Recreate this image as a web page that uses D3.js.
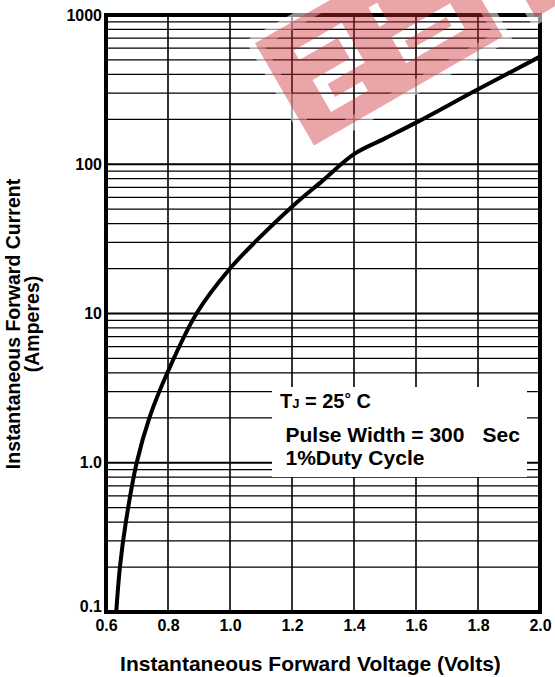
<!DOCTYPE html>
<html lang="en">
<head>
<meta charset="utf-8">
<title>Forward Characteristics</title>
<script src="https://d3js.org/d3.v7.min.js"></script>
<style>
  body { margin: 0; background: #ffffff; }
  text {
    font-family: "Liberation Sans", Arial, sans-serif;
    font-weight: bold;
    fill: #000000;
  }
</style>
</head>
<body>
<div id="chart"></div>
<script>
// forward voltage (V) and matching forward current (A)
var voltage = [0.633, 0.645, 0.664, 0.699, 0.740, 0.800, 0.892, 1.000, 1.100, 1.200, 1.300, 1.400, 1.500, 1.600, 1.800, 2.000];
var current = [0.1, 0.2, 0.4, 1.0, 2.0, 4.1, 10, 20, 33, 52, 78, 117, 149, 190, 318, 526];

// axis ticks
var xTicks = [0.6, 0.8, 1.0, 1.2, 1.4, 1.6, 1.8, 2.0];
var xTickLabels = ["0.6", "0.8", "1.0", "1.2", "1.4", "1.6", "1.8", "2.0"];
var yTicks = [0.1, 1, 10, 100, 1000];
var yTickLabels = ["0.1", "1.0", "10", "100", "1000"];

var margin = {top: 15, right: 15, bottom: 65, left: 106},
    width = 555 - margin.left - margin.right,
    height = 677 - margin.top - margin.bottom;

var svg = d3.select("#chart")
  .append("svg")
    .attr("width", 555)
    .attr("height", 677);

var g = svg.append("g")
    .attr("transform", "translate(" + margin.left + "," + margin.top + ")");

var x = d3.scaleLinear()
  .domain([0.6, 2.0])
  .range([0, width]);

var y = d3.scaleLog()
  .domain([0.1, 1000])
  .range([height, 0]);

// horizontal grid: minor lines 2..9 in every decade, heavier lines on decades
var minor = [];
yTicks.slice(0, -1).forEach(function(d) {
  for (var m = 2; m <= 9; m++) minor.push(d * m);
});
g.selectAll(".minor")
  .data(minor)
  .enter().append("line")
    .attr("x1", 0).attr("x2", width)
    .attr("y1", function(d) { return y(d) })
    .attr("y2", function(d) { return y(d) })
    .attr("stroke", "#000")
    .attr("stroke-width", 1.2);

g.selectAll(".major")
  .data(yTicks.slice(1, -1))
  .enter().append("line")
    .attr("x1", 0).attr("x2", width)
    .attr("y1", function(d) { return y(d) })
    .attr("y2", function(d) { return y(d) })
    .attr("stroke", "#000")
    .attr("stroke-width", 2.2);

// vertical grid
g.selectAll(".vgrid")
  .data(xTicks.slice(1, -1))
  .enter().append("line")
    .attr("x1", function(d) { return x(d) })
    .attr("x2", function(d) { return x(d) })
    .attr("y1", 0).attr("y2", height)
    .attr("stroke", "#000")
    .attr("stroke-width", 1.6);

// note box, blanks out the grid behind it
g.append("rect")
  .attr("x", 272 - margin.left)
  .attr("y", 387 - margin.top)
  .attr("width", 255)
  .attr("height", 90)
  .attr("fill", "#fff");

// the curve
var line = d3.line()
  .x(function(d) { return x(d[0]) })
  .y(function(d) { return y(d[1]) })
  .curve(d3.curveCatmullRom.alpha(0.5));

g.append("path")
  .datum(d3.zip(voltage, current))
  .attr("d", line)
  .attr("fill", "none")
  .attr("stroke", "#000")
  .attr("stroke-width", 4)
  .attr("stroke-linejoin", "round");

// frame
g.append("rect")
  .attr("width", width)
  .attr("height", height)
  .attr("fill", "none")
  .attr("stroke", "#000")
  .attr("stroke-width", 4);

// axes, text only
var xAxis = g.append("g")
  .attr("transform", "translate(0," + height + ")")
  .call(d3.axisBottom(x)
    .tickValues(xTicks)
    .tickFormat(function(d, i) { return xTickLabels[i] })
    .tickSize(0)
    .tickPadding(8));

var yAxis = g.append("g")
  .call(d3.axisLeft(y)
    .tickValues(yTicks)
    .tickFormat(function(d, i) { return yTickLabels[i] })
    .tickSize(0)
    .tickPadding(4));

[xAxis, yAxis].forEach(function(a) {
  a.select(".domain").remove();
  a.selectAll("text")
    .attr("font-family", null)
    .style("font-size", "16px")
    .style("font-weight", "bold")
    .attr("fill", "#000");
});
// the bottom label sits on top of the axis line
yAxis.selectAll(".tick text")
  .filter(function(d) { return d === 0.1 })
  .attr("dy", "-0.05em");

// axis titles
svg.append("text")
  .attr("x", 310.5)
  .attr("y", 671)
  .attr("text-anchor", "middle")
  .style("font-size", "21px")
  .text("Instantaneous Forward Voltage (Volts)");

var yTitle = svg.append("text")
  .attr("transform", "translate(0,324) rotate(-90)")
  .attr("text-anchor", "middle")
  .style("font-size", "19.5px");
yTitle.append("tspan").attr("x", 0).attr("y", 19.5).text("Instantaneous Forward Current");
yTitle.append("tspan").attr("x", 0).attr("y", 39).text("(Amperes)");

// test conditions
var note = svg.append("g");
var t1 = note.append("text")
  .attr("x", 280)
  .attr("y", 408)
  .style("font-size", "20px");
t1.append("tspan").text("T");
t1.append("tspan").style("font-size", "13px").text("J");
t1.append("tspan").text(" = 25");
t1.append("tspan").style("font-size", "16px").attr("dy", -3).text("°");
t1.append("tspan").attr("dy", 3).text(" C");

note.append("text")
  .attr("x", 285.5)
  .attr("y", 441.5)
  .style("font-size", "21px")
  .text("Pulse Width = 300");
note.append("text")
  .attr("x", 482.5)
  .attr("y", 441.5)
  .style("font-size", "21px")
  .text("Sec");
note.append("text")
  .attr("x", 285.5)
  .attr("y", 465)
  .style("font-size", "21px")
  .text("1%Duty Cycle");

// watermark
var defs = svg.append("defs");
var mask = defs.append("mask")
  .attr("id", "wm-cut")
  .attr("maskUnits", "userSpaceOnUse")
  .attr("x", -100).attr("y", -100)
  .attr("width", 700).attr("height", 400);
mask.append("rect")
  .attr("x", -100).attr("y", -100)
  .attr("width", 700).attr("height", 400)
  .attr("fill", "#fff");
mask.append("path")
  .attr("d", "M30,31 H80 V66 H37 V92 H74")
  .attr("fill", "none")
  .attr("stroke", "#000")
  .attr("stroke-width", 11);
mask.append("path")
  .attr("d", "M121,26 V48 M126,68 H184 V88 H126 Z")
  .attr("fill", "none")
  .attr("stroke", "#000")
  .attr("stroke-width", 10);

var wm = svg.append("g")
  .attr("transform", "translate(255,43.3) rotate(-30)");
wm.append("path")
  .attr("d", "M0,0 H218 V118 H0 Z M256,0 H430 V118 H256 Z")
  .attr("fill", "none")
  .attr("stroke", "#fff")
  .attr("stroke-opacity", 0.55)
  .attr("stroke-width", 14);
wm.append("g")
  .attr("mask", "url(#wm-cut)")
  .append("path")
    .attr("d", "M0,0 H218 V118 H0 Z M256,0 H430 V118 H256 Z")
    .attr("fill", "rgb(205,40,50)")
    .attr("fill-opacity", 0.42);
</script>
</body>
</html>
